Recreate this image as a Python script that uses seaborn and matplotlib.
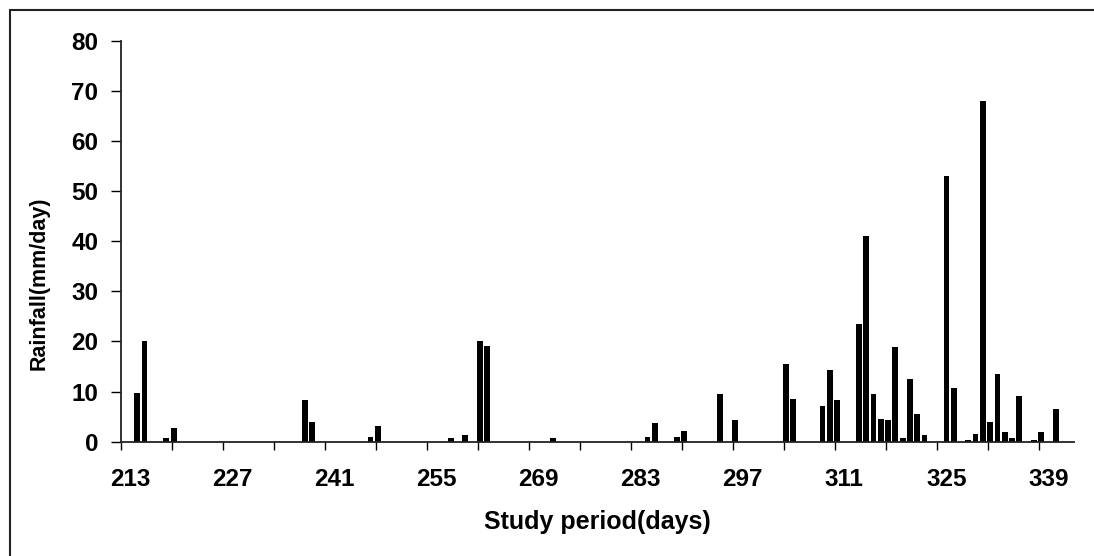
import matplotlib
matplotlib.use("Agg")
import matplotlib.pyplot as plt
import matplotlib.patches as patches
import seaborn as sns
import pandas as pd
import numpy as np

# ---- data ----
days = [214, 215, 218, 219, 237, 238, 246, 247, 257, 259, 261, 262, 271,
        284, 285, 288, 289, 294, 296, 303, 304, 308, 309, 310, 313, 314,
        315, 316, 317, 318, 319, 320, 321, 322, 325, 326, 328, 329, 330,
        331, 332, 333, 334, 335, 337, 338, 340]
rainfall = [9.8, 20.0, 0.8, 2.8, 8.4, 4.0, 1.0, 3.2, 0.8, 1.4, 20.1, 19.0, 0.8,
            1.0, 3.8, 1.0, 2.1, 9.6, 4.4, 15.6, 8.6, 7.2, 14.4, 8.4, 23.4, 41.0,
            9.6, 4.6, 4.4, 18.8, 0.8, 12.6, 5.6, 1.4, 53.0, 10.8, 0.4, 1.6, 68.0,
            4.0, 13.6, 2.0, 0.8, 9.2, 0.4, 2.0, 6.6]
x_tick_labels = [213, 227, 241, 255, 269, 283, 297, 311, 325, 339]
y_ticks = [0, 10, 20, 30, 40, 50, 60, 70, 80]
x_label = "Study period(days)"
y_label = "Rainfall(mm/day)"

df = pd.DataFrame({"day": days, "rain": rainfall})

sns.set_style("white")
plt.rcParams["font.family"] = ["Liberation Sans", "DejaVu Sans"]
plt.rcParams["font.weight"] = "bold"
plt.rcParams["text.color"] = "black"
plt.rcParams["axes.labelcolor"] = "black"
plt.rcParams["xtick.color"] = "black"
plt.rcParams["ytick.color"] = "black"

W, H = 1094, 556
fig = plt.figure(figsize=(W / 100, H / 100), dpi=100)
ax_left, ax_right = 120.7, 1074.0
ax_top, ax_bottom = 40.7, 441.7
ax = fig.add_axes([ax_left / W, 1 - ax_bottom / H,
                   (ax_right - ax_left) / W, (ax_bottom - ax_top) / H])

sns.barplot(data=df, x="day", y="rain", native_scale=True, width=0.8,
            color="black", saturation=1, errorbar=None, ax=ax,
            edgecolor="black", linewidth=0)

ax.set_xlim(211.74, 342.5)
ax.set_ylim(0, 80)

# y axis
ax.set_yticks(y_ticks)
ax.set_yticklabels([str(v) for v in y_ticks], fontsize=17.5, fontweight="bold",
                   color="black")
ax.tick_params(axis="y", direction="out", length=7.5, width=1.0, pad=8.5,
               color="black", left=True)

# x axis: tick marks every 7 days at category edges, labels every 14 days
edge_ticks = [211.74 + 7 * k for k in range(19)]
ax.set_xticks(edge_ticks)
ax.set_xticklabels([""] * len(edge_ticks))
ax.set_xticks(x_tick_labels, minor=True)
ax.set_xticklabels([str(v) for v in x_tick_labels], minor=True,
                   fontsize=17.5, fontweight="bold", color="black")
ax.tick_params(axis="x", which="major", direction="out", length=5.5,
               width=1.0, color="black", bottom=True)
ax.tick_params(axis="x", which="minor", length=0, pad=19, bottom=True)

for s in ["top", "right"]:
    ax.spines[s].set_visible(False)
for s in ["left", "bottom"]:
    ax.spines[s].set_color("#222222")
    ax.spines[s].set_linewidth(1.3)

ax.set_xlabel(x_label, fontsize=18, fontweight="bold", va="center", ha="center",
              color="black")
ax.set_ylabel(y_label, fontsize=15.5, fontweight="bold", va="center", ha="center",
              color="black")
ax.xaxis.set_label_coords(0.5, (ax_bottom - 522) / (ax_bottom - ax_top))
ax.yaxis.set_label_coords((39 - ax_left) / (ax_right - ax_left),
                          (ax_bottom - 283) / (ax_bottom - ax_top))
ax.grid(False)

# outer chart frame
frame = patches.Rectangle((9.5 / W, -0.1), 1.2, 1 - 9.5 / H + 0.1,
                          transform=fig.transFigure, fill=False,
                          edgecolor="#222222", linewidth=1.5, clip_on=False)
fig.patches.append(frame)

fig.savefig("out.png", dpi=100, facecolor="white")
